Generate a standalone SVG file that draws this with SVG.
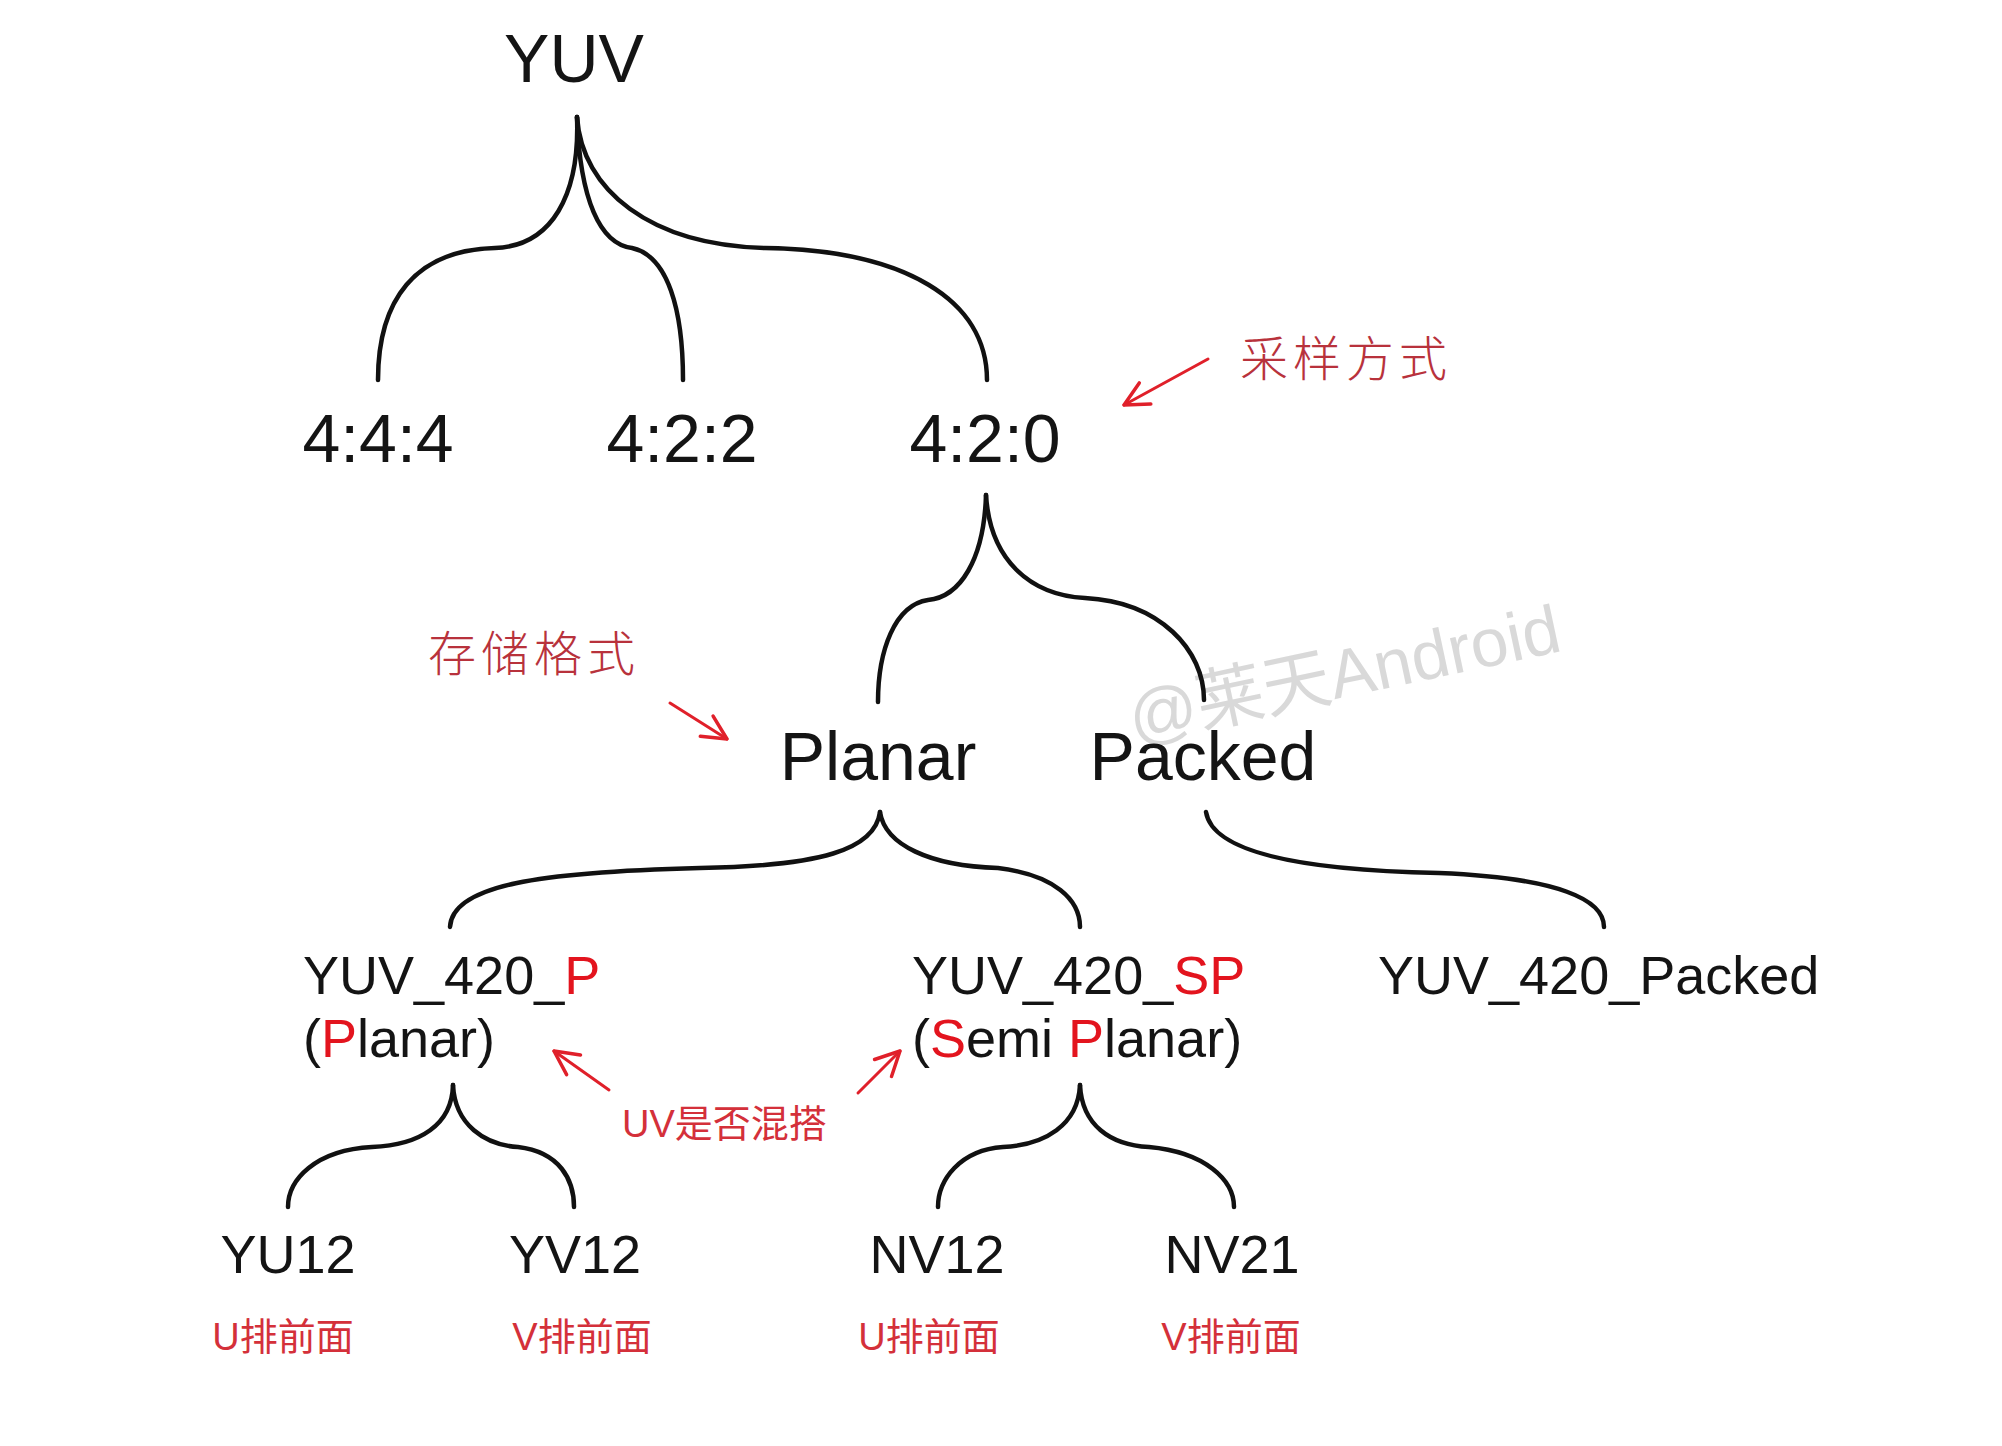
<svg xmlns="http://www.w3.org/2000/svg" width="2002" height="1446" viewBox="0 0 2002 1446">
<style>
.t{font-family:"Liberation Sans",Arial,sans-serif;fill:#141414}
.big{font-size:68px;text-anchor:middle}
.mid{font-size:54px}
.leaf{font-size:54px;text-anchor:middle}
.r{fill:#e3141e}
.lbl{font-family:"Liberation Sans","Noto Sans CJK SC",sans-serif;font-size:38px;fill:#d4303a}
.ann{font-family:"Noto Sans CJK SC",serif;font-size:48px;fill:#b8323c;letter-spacing:5px;font-weight:300}
.wm{font-family:"Liberation Sans","Noto Sans CJK SC",sans-serif;font-size:68px;fill:#b4b4b4;opacity:0.5}
.c{fill:none;stroke:#111;stroke-width:4.5;stroke-linecap:round}
.a{fill:none;stroke:#e0202a;stroke-width:3;stroke-linecap:round;stroke-linejoin:round}
</style>
<defs>
<marker id="ah" viewBox="0 0 30 30" refX="27" refY="15" markerWidth="30" markerHeight="30" markerUnits="userSpaceOnUse" orient="auto">
<path d="M3,3 L27,15 L3,27" fill="none" stroke="#e0202a" stroke-width="3.5" stroke-linecap="round" stroke-linejoin="round"/>
</marker>
</defs>
<rect width="2002" height="1446" fill="#ffffff"/>
<text class="wm" transform="translate(1134,742) rotate(-12)">@莱天Android</text>
<g id="connectors">
<path class="c" d="M577,117 C580,195 552,246 495,248 C415,250 378,300 378,380"/>
<path class="c" d="M577,117 C580,200 600,244 632,248 C668,256 683,310 683,380"/>
<path class="c" d="M577,117 C582,190 650,245 765,248 C905,250 987,300 987,380"/>
<path class="c" d="M986,495 C984,560 960,597 928,600 C895,605 878,650 878,702"/>
<path class="c" d="M986,495 C990,560 1030,595 1085,598 C1160,602 1204,650 1204,700"/>
<path class="c" d="M880,812 C875,850 820,866 700,868 C540,872 452,885 450,927"/>
<path class="c" d="M880,812 C885,845 930,866 998,868 C1055,875 1080,900 1080,927"/>
<path class="c" d="M1206,812 C1212,850 1290,870 1439,873 C1560,878 1604,900 1604,927"/>
<path class="c" d="M453,1085 C452,1125 420,1145 372,1147 C315,1150 288,1180 288,1207"/>
<path class="c" d="M453,1085 C455,1125 485,1145 518,1147 C560,1152 574,1180 574,1207"/>
<path class="c" d="M1080,1085 C1078,1125 1045,1145 1003,1147 C960,1150 938,1180 938,1207"/>
<path class="c" d="M1080,1085 C1082,1125 1110,1145 1149,1147 C1205,1152 1234,1180 1234,1207"/>
</g>
<g id="annotations">
<line class="a" x1="1208" y1="359" x2="1124" y2="405" marker-end="url(#ah)"/>
<line class="a" x1="670" y1="703" x2="727" y2="739" marker-end="url(#ah)"/>
<line class="a" x1="609" y1="1090" x2="554" y2="1051" marker-end="url(#ah)"/>
<line class="a" x1="858" y1="1093" x2="900" y2="1051" marker-end="url(#ah)"/>
<text class="ann" x="1240" y="376">采样方式</text>
<text class="ann" x="428" y="671">存储格式</text>
<text class="lbl" x="622" y="1137">UV是否混搭</text>
</g>
<g id="n-yuv"><text class="t big" x="574" y="82">YUV</text></g>
<g id="n-444"><text class="t big" x="378" y="462">4:4:4</text></g>
<g id="n-422"><text class="t big" x="682" y="462">4:2:2</text></g>
<g id="n-420"><text class="t big" x="985" y="462">4:2:0</text></g>
<g id="n-planar"><text class="t big" x="878" y="780">Planar</text></g>
<g id="n-packed"><text class="t big" x="1203" y="780">Packed</text></g>
<g id="n-420p">
<text class="t mid" x="303" y="994">YUV_420_<tspan class="r">P</tspan></text>
<text class="t mid" x="303" y="1057">(<tspan class="r">P</tspan>lanar)</text>
</g>
<g id="n-420sp">
<text class="t mid" x="912" y="994">YUV_420_<tspan class="r">SP</tspan></text>
<text class="t mid" x="912" y="1057">(<tspan class="r">S</tspan>emi <tspan class="r">P</tspan>lanar)</text>
</g>
<g id="n-420packed"><text class="t mid" x="1378" y="994">YUV_420_Packed</text></g>
<g id="n-yu12">
<text class="t leaf" x="288" y="1273">YU12</text>
<text class="lbl" x="283" y="1350" text-anchor="middle">U排前面</text>
</g>
<g id="n-yv12">
<text class="t leaf" x="575" y="1273">YV12</text>
<text class="lbl" x="582" y="1350" text-anchor="middle">V排前面</text>
</g>
<g id="n-nv12">
<text class="t leaf" x="937" y="1273">NV12</text>
<text class="lbl" x="929" y="1350" text-anchor="middle">U排前面</text>
</g>
<g id="n-nv21">
<text class="t leaf" x="1232" y="1273">NV21</text>
<text class="lbl" x="1231" y="1350" text-anchor="middle">V排前面</text>
</g>
</svg>
